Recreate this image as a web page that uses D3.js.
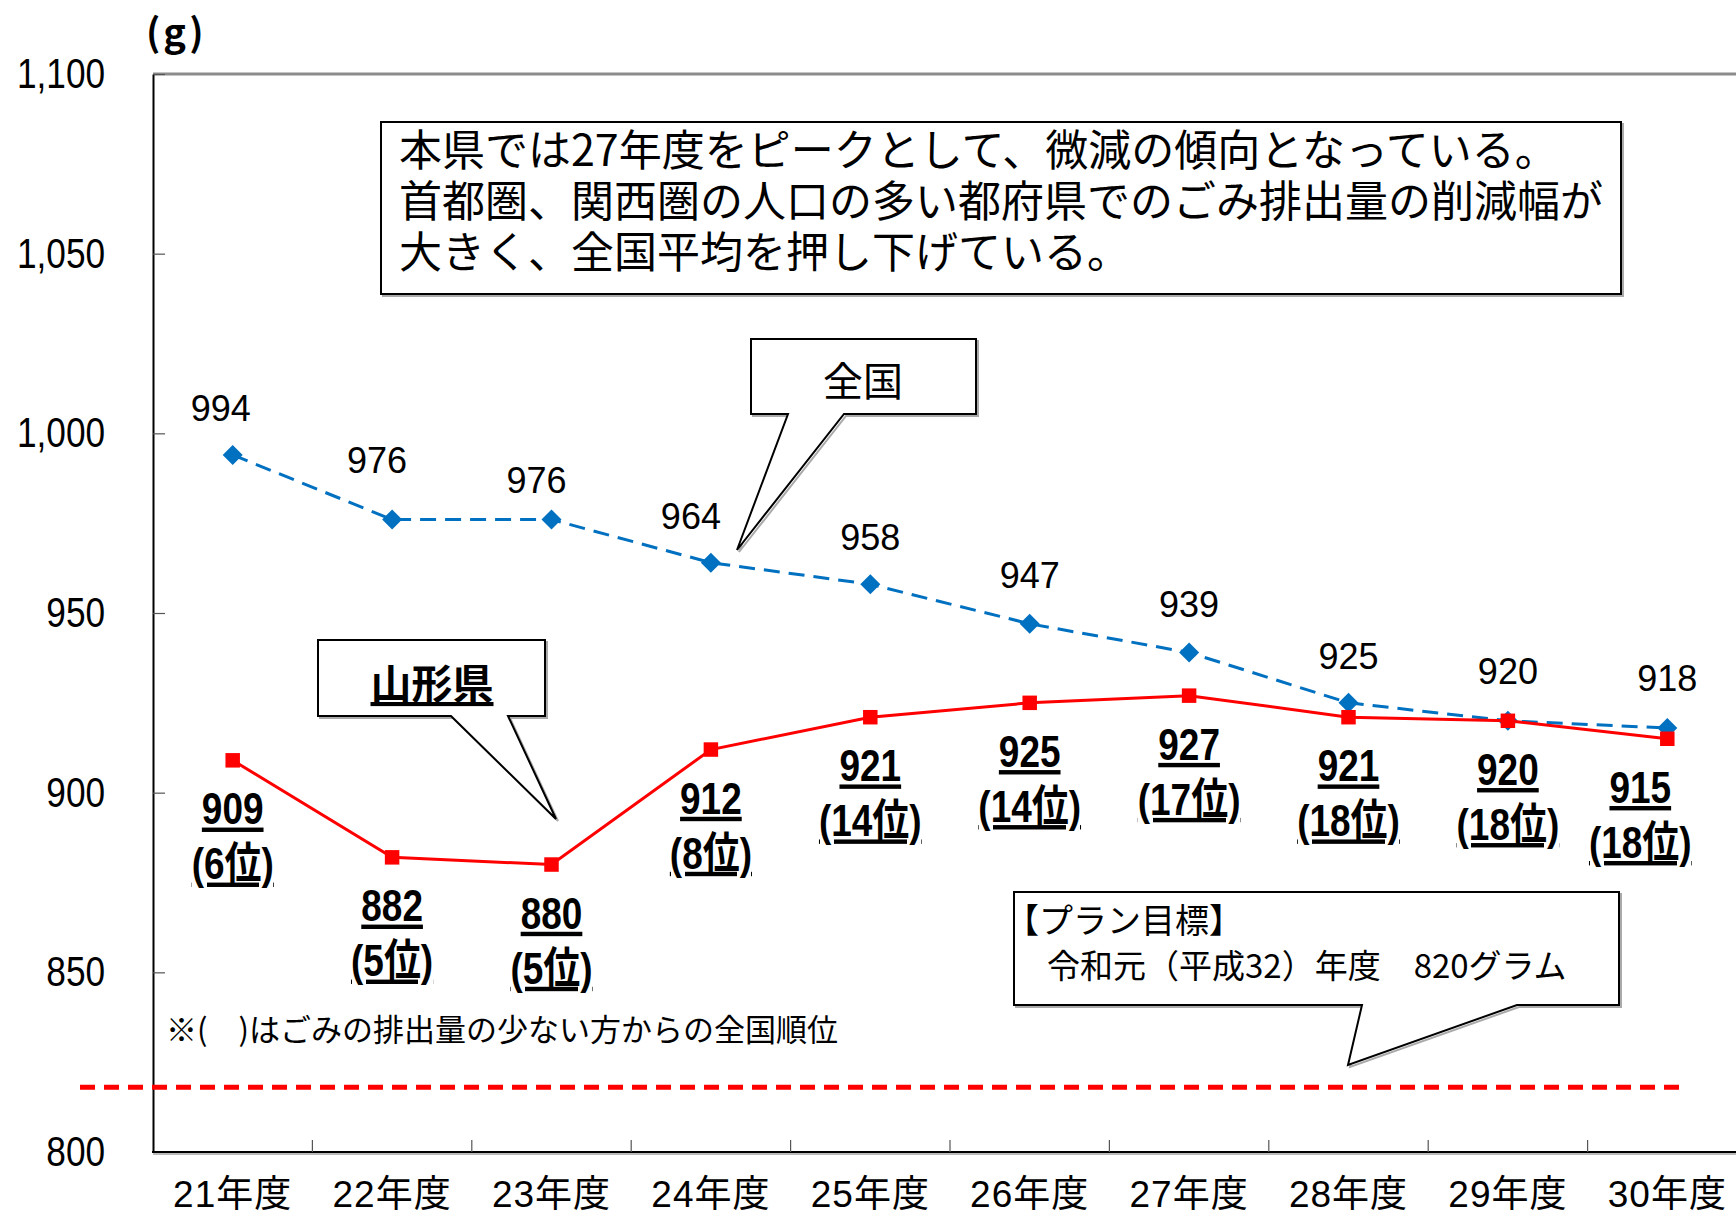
<!DOCTYPE html>
<html>
<head>
<meta charset="utf-8">
<title>ごみ排出量の推移</title>
<script src="https://cdn.jsdelivr.net/npm/d3@7"></script>
<style>
    html, body {margin: 0px; padding: 0px; background: #ffffff; overflow: hidden;}
    svg {display: block;}
    .num {font-family: "Liberation Sans", "Noto Sans CJK JP", sans-serif;}
    .jp {font-family: "Noto Sans CJK JP", sans-serif;}
</style>
</head>
<body>
<div id="chart"></div>
<script>
// grams per person per day
var years = ["21年度", "22年度", "23年度", "24年度", "25年度", "26年度", "27年度", "28年度", "29年度", "30年度"];
var national = [994, 976, 976, 964, 958, 947, 939, 925, 920, 918];
var yamagata = [909, 882, 880, 912, 921, 925, 927, 921, 920, 915];
var yamagataRank = [6, 5, 5, 8, 14, 14, 17, 18, 18, 18];
var yTicks = [800, 850, 900, 950, 1000, 1050, 1100];
var planLevel = 818; // the dashed target line sits just under 820 in the source

var noteLines = [
    "本県では27年度をピークとして、微減の傾向となっている。",
    "首都圏、関西圏の人口の多い都府県でのごみ排出量の削減幅が",
    "大きく、全国平均を押し下げている。"
];
var planLines = ["【プラン目標】", "令和元（平成32）年度　820グラム"];
var footnote = "※(　)はごみの排出量の少ない方からの全国順位";

// label nudges (px) for the value labels
var natDx = [-12, -15, -15, -20, 0, 0, 0, 0, 0, 0];
var natDy = [-46, -59, -39, -46, -46, -48, -48, -46, -49, -49];
var yamDx = [0, 0, 0, 0, 0, 0, 0, 0, 0, -27];

var width = 1736, height = 1216;
var plotLeft = 153, plotTop = 74, plotBottom = 1152, plotRight = 1747;
var squeeze = 0.84; // the source font is a condensed gothic

var svg = d3.select("#chart").append("svg")
    .attr("width", width)
    .attr("height", height);

var x = d3.scaleBand().domain(years).range([plotLeft, plotRight]);
var y = d3.scaleLinear().domain([800, 1100]).range([plotBottom, plotTop]);
var cx = function(i) { return x(years[i]) + x.bandwidth() / 2; };

// top border of the plot (grey)
svg.append("line")
    .attr("x1", plotLeft).attr("x2", width)
    .attr("y1", plotTop).attr("y2", plotTop)
    .attr("stroke", "#8c8c8c").attr("stroke-width", 3);

// y axis
var yAxis = svg.append("g")
    .attr("transform", "translate(" + plotLeft + ",0)")
    .call(d3.axisLeft(y).tickValues(yTicks).tickSize(-12).tickSizeOuter(0)
        .tickPadding(57).tickFormat(d3.format(",")));
yAxis.select(".domain").attr("stroke", "#000").attr("stroke-width", 2);
yAxis.selectAll(".tick line").attr("stroke", "#555").attr("stroke-width", 1.2);
yAxis.selectAll("text")
    .attr("class", "num")
    .attr("transform", "scale(" + squeeze + ",1)")
    .attr("font-size", 42).attr("fill", "#000");

// x axis
var xAxis = svg.append("g")
    .attr("transform", "translate(0," + plotBottom + ")")
    .call(d3.axisBottom(x).tickSize(0).tickPadding(29));
xAxis.select(".domain").remove();
xAxis.selectAll("text")
    .attr("class", "num")
    .attr("font-size", 37).attr("letter-spacing", 1).attr("fill", "#000");

svg.append("line")
    .attr("x1", plotLeft).attr("x2", width)
    .attr("y1", plotBottom + 2).attr("y2", plotBottom + 2)
    .attr("stroke", "#bbb").attr("stroke-width", 2);
svg.append("line")
    .attr("x1", plotLeft - 1).attr("x2", width)
    .attr("y1", plotBottom).attr("y2", plotBottom)
    .attr("stroke", "#000").attr("stroke-width", 2);

svg.selectAll(".xtick")
    .data(years.slice(1))
  .enter().append("line")
    .attr("class", "xtick")
    .attr("x1", function(d) { return x(d); })
    .attr("x2", function(d) { return x(d); })
    .attr("y1", plotBottom).attr("y2", plotBottom - 12)
    .attr("stroke", "#555").attr("stroke-width", 1.2);

// plan target dashed line
svg.append("line")
    .attr("x1", 80).attr("x2", 1683)
    .attr("y1", y(planLevel)).attr("y2", y(planLevel))
    .attr("stroke", "#ff0000").attr("stroke-width", 5)
    .attr("stroke-dasharray", "15,9");

// callout helper: box with optional pointer from its bottom edge
function callout(b, p) {
    var path = "M" + b[0] + "," + b[1] + "H" + b[2] + "V" + b[3];
    if (p) {
        path += "H" + p[1] + "L" + p[2][0] + "," + p[2][1] + "L" + p[0] + "," + b[3];
    }
    path += "H" + b[0] + "Z";
    svg.append("path").attr("d", path)
        .attr("transform", "translate(2,2)")
        .attr("fill", "none").attr("stroke", "#aaa").attr("stroke-width", 2);
    svg.append("path").attr("d", path)
        .attr("fill", "#fff").attr("stroke", "#000").attr("stroke-width", 2);
}

// note box
callout([381, 122, 1621, 294]);
svg.append("g").selectAll("text")
    .data(noteLines)
  .enter().append("text")
    .attr("class", "jp")
    .attr("x", 399)
    .attr("y", function(d, i) { return 166 + i * 51; })
    .attr("font-size", 43)
    .text(function(d) { return d; });

// national callout
callout([751, 339, 976, 414], [788, 844, [737, 550]]);
svg.append("text").attr("class", "jp")
    .attr("x", 863).attr("y", 396)
    .attr("text-anchor", "middle").attr("font-size", 40)
    .text("全国");

// yamagata callout
callout([318, 640, 545, 716], [451, 508, [556, 819]]);
svg.append("text").attr("class", "jp")
    .attr("x", 432).attr("y", 699)
    .attr("text-anchor", "middle").attr("font-size", 41).attr("font-weight", "bold")
    .style("text-decoration", "underline")
    .text("山形県");

// plan callout
callout([1014, 892, 1619, 1005], [1362, 1517, [1348, 1065]]);
svg.append("g").selectAll("text")
    .data(planLines)
  .enter().append("text")
    .attr("class", "jp")
    .attr("x", function(d, i) { return i ? 1047 : 1005; })
    .attr("y", function(d, i) { return 933 + i * 45; })
    .attr("font-size", function(d, i) { return i ? 33 : 34; })
    .text(function(d) { return d; });

// footnote and unit
svg.append("text").attr("class", "jp")
    .attr("x", 166).attr("y", 1041)
    .attr("font-size", 31)
    .text(footnote);
svg.append("text").attr("class", "jp")
    .attr("x", 146).attr("y", 46)
    .attr("font-size", 38).attr("font-weight", "bold").attr("letter-spacing", 3)
    .text("(g)");

// national series
var line = d3.line()
    .x(function(d, i) { return cx(i); })
    .y(function(d) { return y(d); });

svg.append("path")
    .datum(national)
    .attr("d", line)
    .attr("fill", "none")
    .attr("stroke", "#0070c0").attr("stroke-width", 3)
    .attr("stroke-dasharray", "16,9");

svg.selectAll(".nat")
    .data(national)
  .enter().append("path")
    .attr("class", "nat")
    .attr("d", d3.symbol(d3.symbolSquare, 200))
    .attr("transform", function(d, i) { return "translate(" + cx(i) + "," + y(d) + ") rotate(45)"; })
    .attr("fill", "#0070c0");

svg.selectAll(".natLabel")
    .data(national)
  .enter().append("text")
    .attr("class", "natLabel")
    .attr("x", function(d, i) { return cx(i) + natDx[i]; })
    .attr("y", function(d, i) { return y(d) + natDy[i] + 12; })
    .attr("text-anchor", "middle")
    .attr("font-size", 36)
    .attr("font-family", "'Liberation Sans', 'Noto Sans', sans-serif")
    .text(function(d) { return d; });

// yamagata series
svg.append("path")
    .datum(yamagata)
    .attr("d", line)
    .attr("fill", "none")
    .attr("stroke", "#ff0000").attr("stroke-width", 3);

svg.selectAll(".yam")
    .data(yamagata)
  .enter().append("path")
    .attr("class", "yam")
    .attr("d", d3.symbol(d3.symbolSquare, 210))
    .attr("transform", function(d, i) { return "translate(" + cx(i) + "," + y(d) + ")"; })
    .attr("fill", "#ff0000");

var yamLabels = svg.selectAll(".yamLabel")
    .data(yamagata)
  .enter().append("g")
    .attr("class", "yamLabel")
    .attr("transform", function(d, i) {
        return "translate(" + (cx(i) + yamDx[i]) + "," + y(d) + ") scale(" + squeeze + ",1)";
    });

yamLabels.append("text")
    .attr("class", "num")
    .attr("y", 64)
    .attr("text-anchor", "middle")
    .attr("font-size", 44).attr("font-weight", "bold")
    .style("text-decoration", "underline")
    .text(function(d) { return d; });

yamLabels.append("text")
    .attr("class", "num")
    .attr("y", 119)
    .attr("text-anchor", "middle")
    .attr("font-size", 44).attr("font-weight", "bold")
    .style("text-decoration", "underline")
    .text(function(d, i) { return "(" + yamagataRank[i] + "位)"; });
</script>
</body>
</html>
